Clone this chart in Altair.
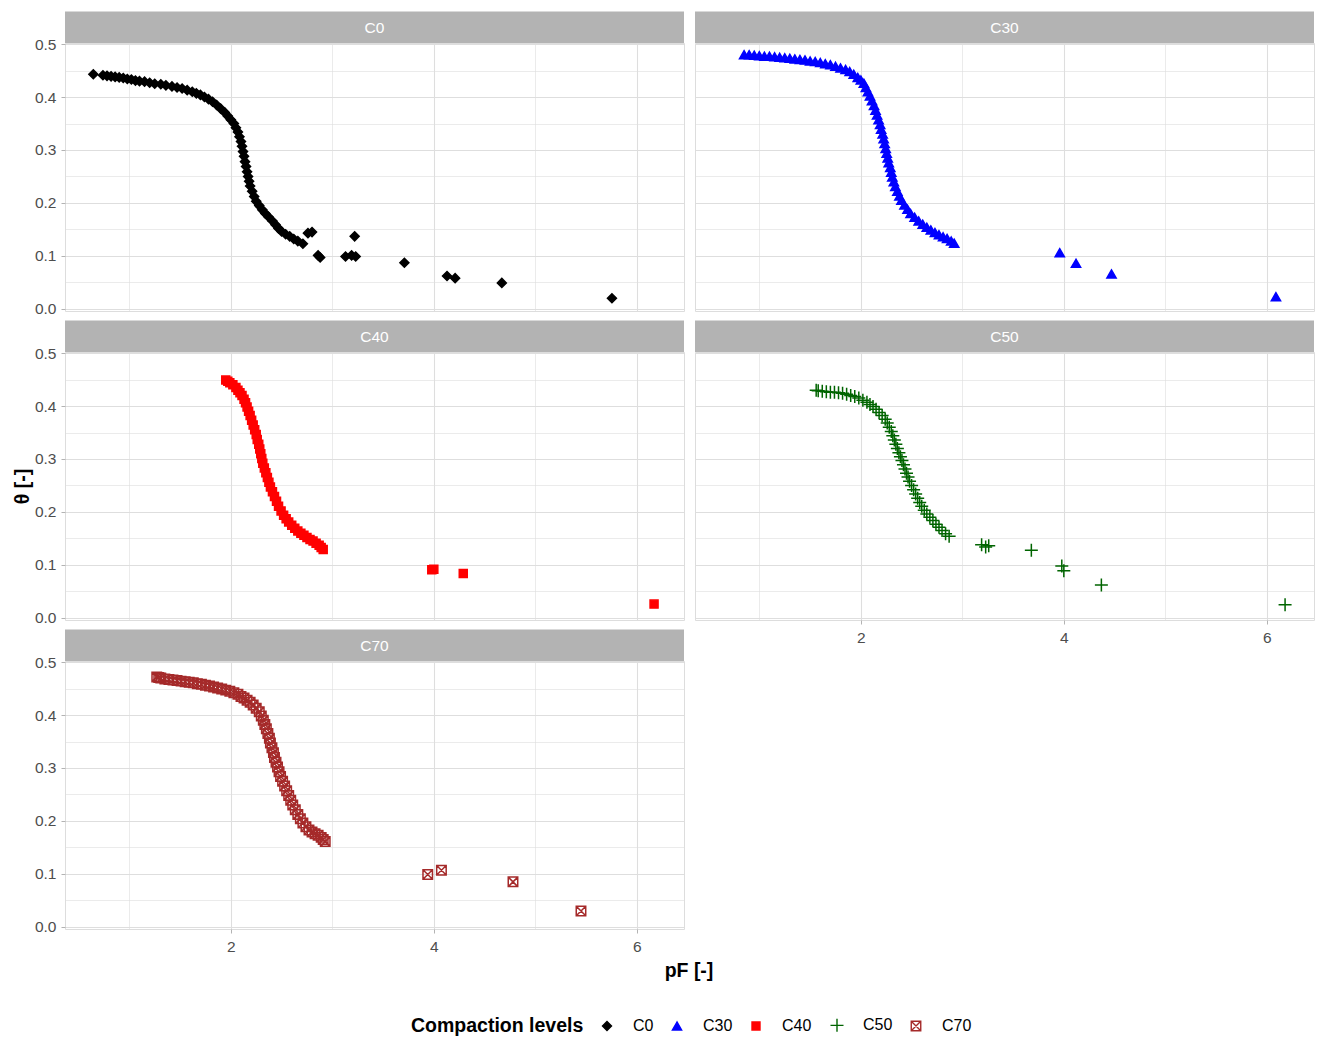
import altair as alt
import pandas as pd

FONT = "Liberation Sans"

levels = ["C0", "C30", "C40", "C50", "C70"]

c0_pf = [0.645, 0.74, 0.78, 0.82, 0.86, 0.90, 0.94, 0.98, 1.02, 1.06, 1.10, 1.15, 1.20, 1.25,
         1.31, 1.36, 1.42, 1.47, 1.52, 1.57, 1.62, 1.66, 1.70, 1.74, 1.78, 1.82, 1.86, 1.90,
         1.94, 1.97, 2.00, 2.03, 2.05, 2.07, 2.085, 2.10, 2.11, 2.12, 2.13, 2.14, 2.15, 2.16,
         2.17, 2.18, 2.19, 2.21, 2.23, 2.25, 2.28, 2.31, 2.34, 2.37, 2.41, 2.44, 2.47, 2.50,
         2.54, 2.58, 2.62, 2.66, 2.71,
         2.76, 2.80, 2.86, 2.88, 3.13, 3.19, 3.23, 3.22, 3.71, 4.13, 4.21, 4.67, 5.755]
c0_theta = [0.443, 0.441, 0.440, 0.439, 0.438, 0.437, 0.436, 0.434, 0.433, 0.431, 0.430, 0.429,
            0.427, 0.425, 0.424, 0.422, 0.420, 0.418, 0.416, 0.413, 0.410, 0.407, 0.404, 0.400,
            0.396, 0.391, 0.385, 0.378, 0.371, 0.364, 0.357, 0.350, 0.342, 0.334, 0.325, 0.316,
            0.307, 0.297, 0.288, 0.278, 0.269, 0.259, 0.250, 0.241, 0.232, 0.222, 0.212, 0.203,
            0.195, 0.187, 0.180, 0.174, 0.166, 0.159, 0.152, 0.146, 0.141, 0.137, 0.132, 0.128,
            0.123,
            0.143, 0.145, 0.101, 0.097, 0.099, 0.101, 0.099, 0.137, 0.087, 0.062, 0.058, 0.049,
            0.020]

c30_pf = [0.85, 0.90, 0.95, 1.00, 1.05, 1.10, 1.15, 1.20, 1.25, 1.30, 1.35, 1.40, 1.45, 1.50,
          1.55, 1.60, 1.65, 1.70, 1.75, 1.80, 1.85, 1.89, 1.93, 1.97, 2.00, 2.03, 2.05, 2.07,
          2.09, 2.11, 2.13, 2.145, 2.16, 2.175, 2.19, 2.20, 2.215, 2.225, 2.235, 2.245, 2.255,
          2.265, 2.275, 2.29, 2.30, 2.31, 2.325, 2.34, 2.36, 2.38, 2.40, 2.43, 2.46, 2.49, 2.53,
          2.57, 2.61, 2.65, 2.69, 2.73, 2.77, 2.81, 2.85, 2.89, 2.92,
          3.96, 4.12, 4.47, 6.09]
c30_theta = [0.480, 0.480, 0.479, 0.478, 0.477, 0.477, 0.476, 0.475, 0.474, 0.473, 0.472, 0.471,
             0.470, 0.468, 0.467, 0.465, 0.463, 0.461, 0.458, 0.455, 0.452, 0.448, 0.443, 0.437,
             0.432, 0.426, 0.418, 0.410, 0.402, 0.393, 0.384, 0.375, 0.366, 0.357, 0.348, 0.339,
             0.330, 0.321, 0.312, 0.303, 0.294, 0.285, 0.276, 0.267, 0.258, 0.249, 0.240, 0.231,
             0.222, 0.213, 0.205, 0.196, 0.188, 0.180, 0.173, 0.166, 0.160, 0.154, 0.149, 0.144,
             0.140, 0.136, 0.133, 0.128, 0.124,
             0.106, 0.086, 0.066, 0.023]

c40_pf = [1.95, 1.97, 1.99, 2.02, 2.05, 2.07, 2.09, 2.11, 2.13, 2.145, 2.16, 2.175, 2.19, 2.205,
          2.22, 2.235, 2.25, 2.26, 2.275, 2.285, 2.295, 2.305, 2.315, 2.33, 2.345, 2.36, 2.375,
          2.39, 2.41, 2.43, 2.45, 2.47, 2.495, 2.52, 2.545, 2.57, 2.60, 2.63, 2.66, 2.69, 2.72,
          2.75, 2.78, 2.81, 2.84, 2.87, 2.89, 2.91,
          3.98, 4.00, 4.29, 6.17]
c40_theta = [0.449, 0.447, 0.444, 0.440, 0.435, 0.430, 0.425, 0.420, 0.413, 0.406, 0.398, 0.390,
             0.382, 0.373, 0.364, 0.355, 0.346, 0.337, 0.328, 0.319, 0.310, 0.301, 0.292, 0.283,
             0.274, 0.265, 0.256, 0.247, 0.238, 0.229, 0.220, 0.211, 0.202, 0.194, 0.187, 0.181,
             0.175, 0.169, 0.164, 0.160, 0.156, 0.152, 0.148, 0.145, 0.141, 0.137, 0.133, 0.129,
             0.091, 0.092, 0.084, 0.026]

c50_pf = [1.56, 1.58, 1.62, 1.66, 1.70, 1.74, 1.78, 1.82, 1.86, 1.90, 1.94, 1.98, 2.02, 2.06,
          2.09, 2.12, 2.15, 2.18, 2.21, 2.24, 2.26, 2.28, 2.30, 2.315, 2.33, 2.345, 2.36, 2.375,
          2.39, 2.405, 2.42, 2.435, 2.45, 2.465, 2.48, 2.50, 2.52, 2.54, 2.56, 2.58, 2.60, 2.625,
          2.65, 2.68, 2.71, 2.74, 2.77, 2.80, 2.835, 2.87,
          3.19, 3.23, 3.26, 3.68, 3.98, 4.00, 4.37, 6.18]
c50_theta = [0.430, 0.429, 0.428, 0.427, 0.426, 0.426, 0.425, 0.424, 0.422, 0.420, 0.418, 0.415,
             0.411, 0.407, 0.403, 0.399, 0.394, 0.388, 0.382, 0.375, 0.368, 0.360, 0.352, 0.344,
             0.336, 0.328, 0.320, 0.312, 0.304, 0.297, 0.289, 0.281, 0.273, 0.266, 0.258, 0.250,
             0.242, 0.234, 0.226, 0.218, 0.211, 0.203, 0.196, 0.190, 0.184, 0.177, 0.171, 0.165,
             0.159, 0.154,
             0.138, 0.134, 0.136, 0.1275, 0.098, 0.089, 0.062, 0.025]

c70_pf = [1.27, 1.29, 1.31, 1.35, 1.39, 1.43, 1.47, 1.51, 1.55, 1.59, 1.63, 1.67, 1.71, 1.75,
          1.79, 1.83, 1.87, 1.91, 1.95, 1.99, 2.03, 2.07, 2.10, 2.13, 2.16, 2.19, 2.22, 2.25,
          2.28, 2.30, 2.32, 2.335, 2.35, 2.365, 2.38, 2.39, 2.405, 2.42, 2.43, 2.445, 2.46,
          2.475, 2.49, 2.51, 2.53, 2.55, 2.57, 2.59, 2.61, 2.635, 2.66, 2.685, 2.71, 2.74, 2.77,
          2.80, 2.83, 2.86, 2.89, 2.91, 2.93,
          3.94, 4.075, 4.78, 5.45]
c70_theta = [0.472, 0.471, 0.470, 0.468, 0.467, 0.466, 0.465, 0.464, 0.463, 0.462, 0.461, 0.459,
             0.458, 0.456, 0.455, 0.453, 0.451, 0.449, 0.447, 0.445, 0.442, 0.439, 0.435, 0.432,
             0.428, 0.424, 0.419, 0.413, 0.406, 0.398, 0.390, 0.382, 0.374, 0.365, 0.356, 0.347,
             0.338, 0.329, 0.320, 0.311, 0.302, 0.293, 0.284, 0.275, 0.266, 0.257, 0.248, 0.239,
             0.230, 0.221, 0.212, 0.204, 0.196, 0.189, 0.183, 0.179, 0.176, 0.173, 0.169, 0.165,
             0.161,
             0.099, 0.107, 0.085, 0.030]

x_ticks = [1, 2, 3, 4, 5, 6]
y_ticks = [0.0, 0.05, 0.1, 0.15, 0.2, 0.25, 0.3, 0.35, 0.4, 0.45, 0.5]

series = {"C0": (c0_pf, c0_theta), "C30": (c30_pf, c30_theta), "C40": (c40_pf, c40_theta),
          "C50": (c50_pf, c50_theta), "C70": (c70_pf, c70_theta)}
rows = []
for lvl in levels:
    xs, ys = series[lvl]
    for a, b in zip(xs, ys):
        rows.append({"level": lvl, "pF": a, "theta": b})
df = pd.DataFrame(rows)

PLUS = "M-1,0L1,0M0,-1L0,1"
BOXX = "M-1,-1L1,-1L1,1L-1,1Z M-1,-1L1,1 M-1,1L1,-1"
shape_range = ["diamond", "triangle-up", "square", PLUS, BOXX]
fill_range = ["#000000", "#0000FF", "#FF0000", "transparent", "transparent"]
stroke_range = ["#000000", "#0000FF", "#FF0000", "#006400", "#A52A2A"]
size_range = [81, 85, 64, 169, 90]

W, PH, SH = 619, 268, 31.5
X_DOMAIN = [0.366, 6.465]
Y_DOMAIN = [-0.004, 0.502]
GRID = "#DEDEDE"
BORDER = "#B3B3B3"

legend = alt.Legend(title="Compaction levels", orient="none", legendX=346, legendY=974,
                    direction="horizontal", titleOrient="left", titleBaseline="middle",
                    titleFontSize=19.5, titleFontWeight="bold", titleColor="black",
                    titleFont=FONT, titlePadding=15, labelFont=FONT, labelFontSize=16,
                    labelColor="black", labelOffset=18, columnPadding=15,
                    symbolStrokeWidth=1.4)

x_major = "datum.value % 2 == 0"
y_major = "round(datum.value * 20) % 2 == 0"


def panel(level, left, bottom, ytitle=None, xtitle=None):
    xaxis_kw = dict(values=x_ticks, labels=bottom, ticks=bottom, domain=False,
                    grid=True, gridColor=GRID,
                    gridWidth={"condition": {"test": x_major, "value": 1.1}, "value": 0.6},
                    tickColor={"condition": {"test": x_major, "value": BORDER},
                               "value": "transparent"},
                    tickSize=4, labelPadding=6, labelFont=FONT, labelFontSize=15.5,
                    labelColor="#4D4D4D", labelOverlap=False, labelFlush=False,
                    labelExpr="datum.value % 2 == 0 ? datum.label : ''")
    if xtitle:
        xaxis_kw.update(title=xtitle, titleFont=FONT, titleFontSize=19.5, titleFontWeight="bold",
                        titleColor="black", titleX=623.5, titlePadding=7)
    else:
        xaxis_kw.update(title=None)
    yaxis_kw = dict(values=y_ticks, labels=left, ticks=left, domain=False,
                    grid=True, gridColor=GRID,
                    gridWidth={"condition": {"test": y_major, "value": 1.1}, "value": 0.6},
                    tickColor={"condition": {"test": y_major, "value": BORDER},
                               "value": "transparent"},
                    tickSize=4, labelPadding=5, labelFont=FONT, labelFontSize=15.5,
                    labelColor="#4D4D4D", labelOverlap=False, labelFlush=False,
                    labelExpr=y_major + " ? format(datum.value, '.1f') : ''")
    if ytitle:
        yaxis_kw.update(title=ytitle, titleFont=FONT, titleFontSize=19.5, titleFontWeight="bold",
                        titleColor="black", titlePadding=2)
    else:
        yaxis_kw.update(title=None)

    pts = alt.Chart(df).transform_filter(alt.datum.level == level).mark_point(
        opacity=1, strokeWidth=1.5).encode(
        x=alt.X("pF:Q", scale=alt.Scale(domain=X_DOMAIN, nice=False, zero=False),
                axis=alt.Axis(**xaxis_kw)),
        y=alt.Y("theta:Q", scale=alt.Scale(domain=Y_DOMAIN, nice=False, zero=False),
                axis=alt.Axis(**yaxis_kw)),
        shape=alt.Shape("level:N", scale=alt.Scale(domain=levels, range=shape_range), legend=legend),
        fill=alt.Fill("level:N", scale=alt.Scale(domain=levels, range=fill_range), legend=legend),
        stroke=alt.Stroke("level:N", scale=alt.Scale(domain=levels, range=stroke_range), legend=legend),
        size=alt.Size("level:N", scale=alt.Scale(type="ordinal", domain=levels, range=size_range),
                      legend=legend),
    )
    base = alt.Chart(pd.DataFrame({"label": [level]}))
    rect = base.mark_rect(color=BORDER).encode(
        x=alt.value(0), x2=alt.value(W), y=alt.value(-SH), y2=alt.value(0))
    txt = base.mark_text(color="white", font=FONT, fontSize=15.5, baseline="middle",
                         align="center").encode(
        x=alt.value(W / 2), y=alt.value(-SH / 2 + 1), text="label:N")
    return alt.layer(pts, rect, txt).properties(width=W, height=PH)


panels = [
    panel("C0", True, False),
    panel("C30", False, False),
    panel("C40", True, False, ytitle="θ [-]"),
    panel("C50", False, True),
    panel("C70", True, True, xtitle="pF [-]"),
]

chart = alt.concat(*panels, columns=2, spacing={"row": SH + 9.5, "column": 11},
                   bounds="flush").resolve_scale(
    shape="shared", fill="shared", stroke="shared", size="shared").properties(
    padding={"left": 3, "top": 3, "right": 0, "bottom": 0}).configure_view(
    stroke=BORDER, strokeWidth=1).configure(font=FONT)

chart.save("out.html", embed_options={"renderer": "svg", "actions": False})
